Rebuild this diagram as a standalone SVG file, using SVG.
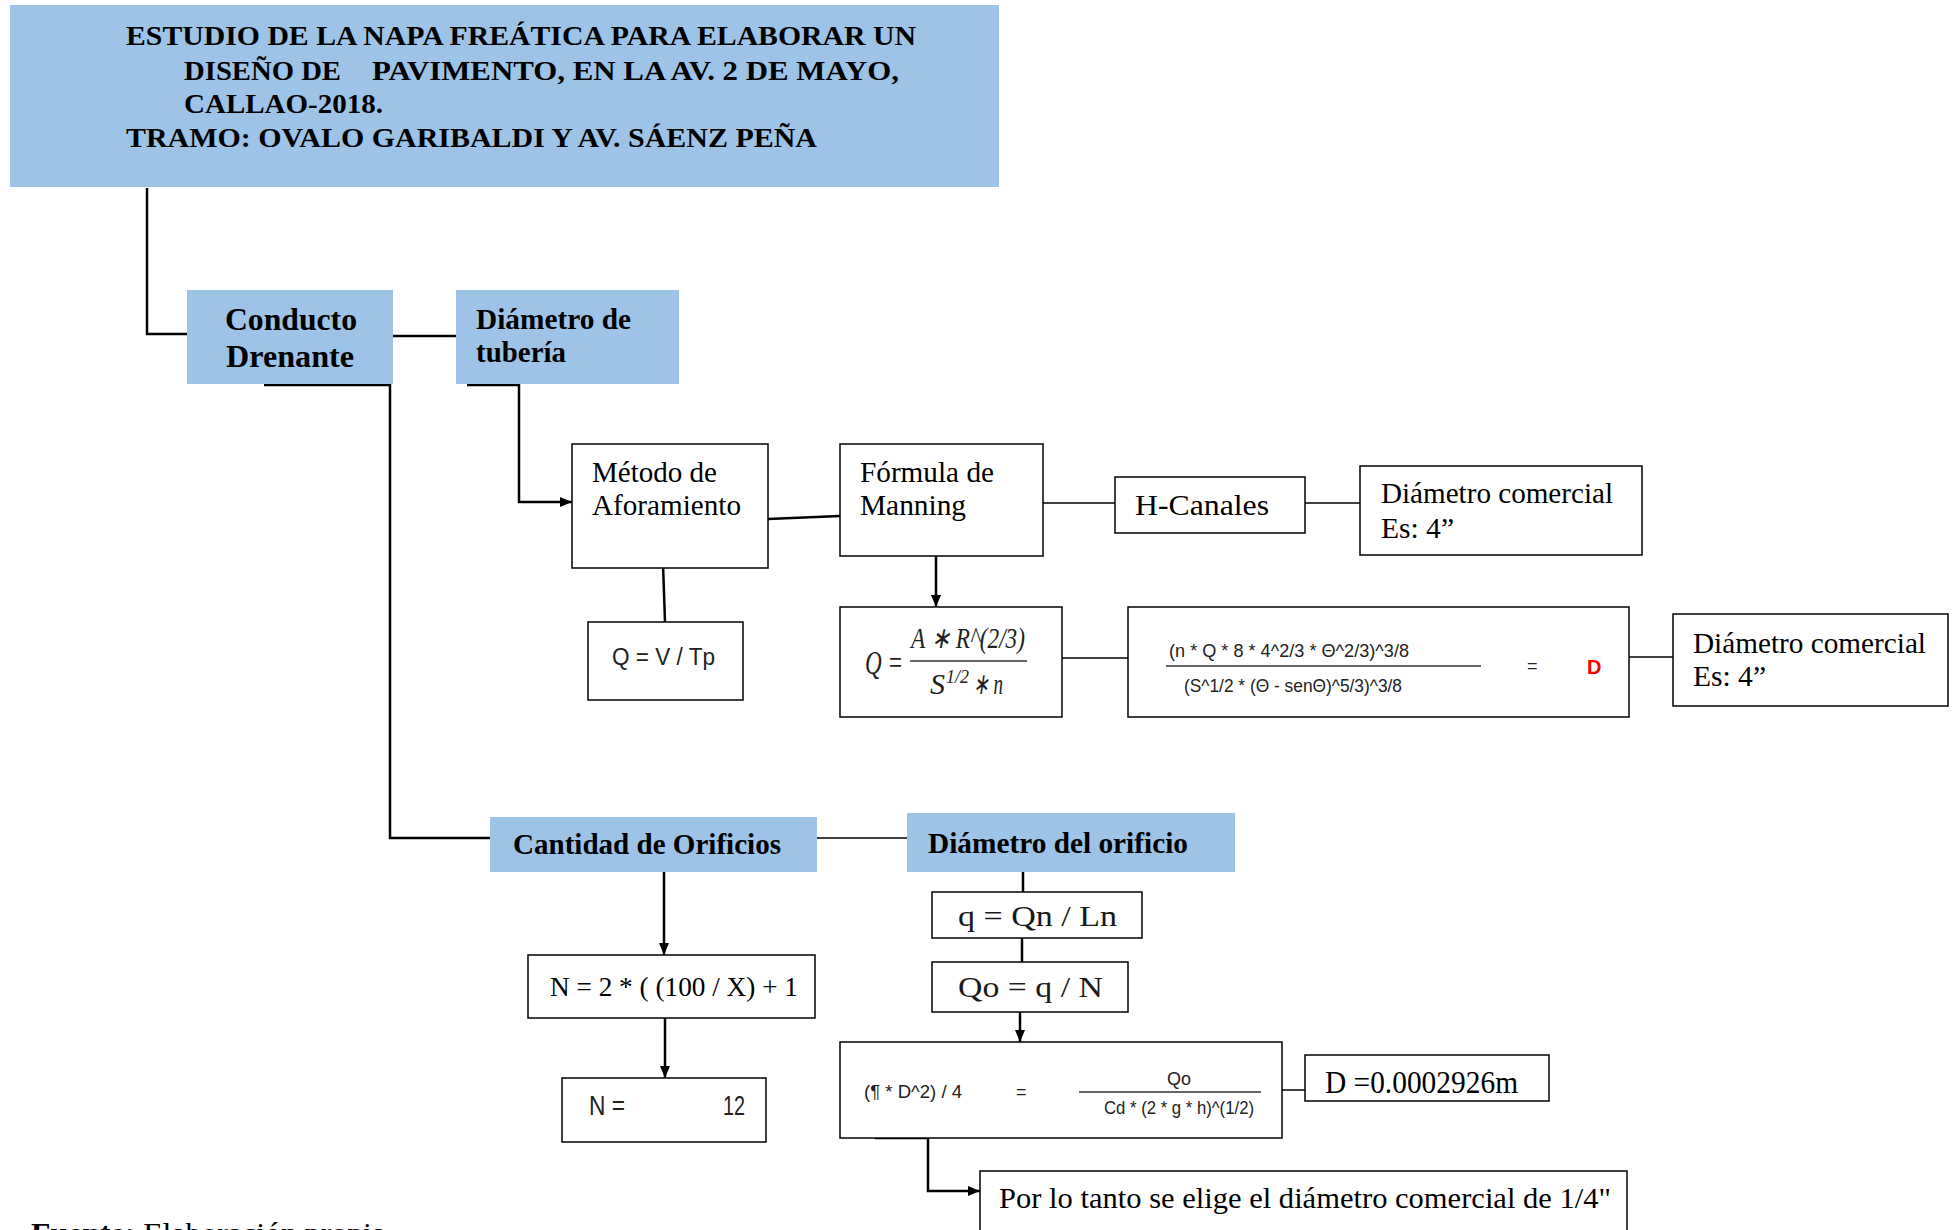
<svg xmlns="http://www.w3.org/2000/svg" width="1955" height="1230" viewBox="0 0 1955 1230">
  <style>
    .blue { fill: #9DC3E6; stroke: none; }
    .box { fill: #FFFFFF; stroke: #000; stroke-width: 1.5; }
    .serif { font-family: "Liberation Serif", "Times New Roman", serif; fill: #000; }
    .bold { font-weight: bold; }
    .sans { font-family: "Liberation Sans", Arial, sans-serif; fill: #222; }
    .math { font-family: "Liberation Serif", "Times New Roman", serif; font-style: italic; fill: #222; }
    .thick { fill: none; stroke: #000; stroke-width: 2.5; }
    .thin { fill: none; stroke: #000; stroke-width: 1.5; }
    .rule { stroke: #333; stroke-width: 1.6; }
  </style>
  <defs>
    <marker id="arr" viewBox="0 0 12 10" refX="12" refY="5" markerWidth="12" markerHeight="10" markerUnits="userSpaceOnUse" orient="auto">
      <path d="M0,0 L12,5 L0,10 z" fill="#000"/>
    </marker>
  </defs>

  <rect width="1955" height="1230" fill="#FFFFFF"/>

  <!-- connectors -->
  <g id="connectors">
    <path class="thick" d="M147,188 V334 H187"/>
    <path class="thick" d="M393,336 H456"/>
    <path class="thick" d="M467,385 H519 V502 H572" marker-end="url(#arr)"/>
    <path class="thick" d="M768,519 L840,516" stroke-width="3"/>
    <path class="thick" d="M663,564 L665,622"/>
    <path class="thin" d="M1043,503 H1115"/>
    <path class="thin" d="M1305,503 H1360"/>
    <path class="thick" d="M936,556 V607" marker-end="url(#arr)"/>
    <path class="thin" d="M1062,658 H1128"/>
    <path class="thin" d="M1629,657 H1673"/>
    <path class="thick" d="M264,385 H390 V838 H490"/>
    <path class="thin" d="M817,838 H907"/>
    <path class="thick" d="M664,872 V955" marker-end="url(#arr)"/>
    <path class="thick" d="M665,1018 V1078" marker-end="url(#arr)"/>
    <path class="thick" d="M1023,872 V892"/>
    <path class="thick" d="M1022,938 V962"/>
    <path class="thick" d="M1020,1012 V1042" marker-end="url(#arr)"/>
    <path class="thin" d="M1282,1090 H1305"/>
    <path class="thick" d="M875,1138 H928 V1191 H980" marker-end="url(#arr)"/>
  </g>

  <!-- title -->
  <g id="title">
    <rect class="blue" x="10" y="5" width="989" height="182"/>
    <text class="serif bold" font-size="28" x="126" y="45" textLength="790" lengthAdjust="spacingAndGlyphs">ESTUDIO DE LA NAPA FREÁTICA PARA ELABORAR UN</text>
    <text class="serif bold" font-size="28" x="184" y="80" textLength="157" lengthAdjust="spacingAndGlyphs">DISEÑO DE</text>
    <text class="serif bold" font-size="28" x="372" y="80" textLength="527" lengthAdjust="spacingAndGlyphs">PAVIMENTO, EN LA AV. 2 DE MAYO,</text>
    <text class="serif bold" font-size="28" x="184" y="113" textLength="199" lengthAdjust="spacingAndGlyphs">CALLAO-2018.</text>
    <text class="serif bold" font-size="28" x="126" y="147" textLength="691" lengthAdjust="spacingAndGlyphs">TRAMO: OVALO GARIBALDI Y AV. SÁENZ PEÑA</text>
  </g>

  <g id="conducto-drenante">
    <rect class="blue" x="187" y="290" width="206" height="94"/>
    <text class="serif bold" font-size="32" x="225" y="330" textLength="132" lengthAdjust="spacingAndGlyphs">Conducto</text>
    <text class="serif bold" font-size="32" x="226" y="367" textLength="128" lengthAdjust="spacingAndGlyphs">Drenante</text>
  </g>

  <g id="diametro-tuberia">
    <rect class="blue" x="456" y="290" width="223" height="94"/>
    <text class="serif bold" font-size="30" x="476" y="329" textLength="155" lengthAdjust="spacingAndGlyphs">Diámetro de</text>
    <text class="serif bold" font-size="30" x="476" y="362" textLength="90" lengthAdjust="spacingAndGlyphs">tubería</text>
  </g>

  <g id="metodo-aforamiento">
    <rect class="box" x="572" y="444" width="196" height="124"/>
    <text class="serif" font-size="29" x="592" y="482" textLength="125" lengthAdjust="spacingAndGlyphs">Método de</text>
    <text class="serif" font-size="29" x="592" y="515" textLength="149" lengthAdjust="spacingAndGlyphs">Aforamiento</text>
  </g>

  <g id="formula-manning">
    <rect class="box" x="840" y="444" width="203" height="112"/>
    <text class="serif" font-size="29" x="860" y="482" textLength="134" lengthAdjust="spacingAndGlyphs">Fórmula de</text>
    <text class="serif" font-size="29" x="860" y="515" textLength="106" lengthAdjust="spacingAndGlyphs">Manning</text>
  </g>

  <g id="h-canales">
    <rect class="box" x="1115" y="477" width="190" height="56"/>
    <text class="serif" font-size="30" x="1135" y="515" textLength="134" lengthAdjust="spacingAndGlyphs">H-Canales</text>
  </g>

  <g id="diametro-comercial-1">
    <rect class="box" x="1360" y="466" width="282" height="89"/>
    <text class="serif" font-size="30" x="1381" y="503" textLength="232" lengthAdjust="spacingAndGlyphs">Diámetro comercial</text>
    <text class="serif" font-size="30" x="1381" y="538" textLength="73" lengthAdjust="spacingAndGlyphs">Es: 4”</text>
  </g>

  <g id="caudal-aforo">
    <rect class="box" x="588" y="622" width="155" height="78"/>
    <text class="sans" font-size="23" x="612" y="665" textLength="103" lengthAdjust="spacingAndGlyphs">Q = V / Tp</text>
  </g>

  <g id="ecuacion-manning">
    <rect class="box" x="840" y="607" width="222" height="110"/>
    <text class="math" font-size="33" x="865" y="674" textLength="38" lengthAdjust="spacingAndGlyphs">Q =</text>
    <text class="math" font-size="30" x="911" y="648" textLength="114" lengthAdjust="spacingAndGlyphs">A ∗ R^(2/3)</text>
    <line class="rule" x1="910" y1="661" x2="1027" y2="661" stroke-width="2"/>
    <text class="math" font-size="30" x="930" y="694">S</text>
    <text class="math" font-size="18" x="946" y="683" font-style="normal" textLength="23" lengthAdjust="spacingAndGlyphs">1/2</text>
    <text class="math" font-size="30" x="973" y="694" textLength="30" lengthAdjust="spacingAndGlyphs">∗ n</text>
  </g>

  <g id="ecuacion-diametro">
    <rect class="box" x="1128" y="607" width="501" height="110"/>
    <text class="sans" font-size="19" x="1169" y="657" textLength="240" lengthAdjust="spacingAndGlyphs">(n * Q * 8 * 4^2/3 * Θ^2/3)^3/8</text>
    <line class="rule" x1="1166" y1="666" x2="1481" y2="666"/>
    <text class="sans" font-size="19" x="1184" y="692" textLength="218" lengthAdjust="spacingAndGlyphs">(S^1/2 * (Θ - senΘ)^5/3)^3/8</text>
    <text class="sans" font-size="18" x="1527" y="672">=</text>
    <text class="sans bold" font-size="20" x="1587" y="674" style="fill:#FF0000">D</text>
  </g>

  <g id="diametro-comercial-2">
    <rect class="box" x="1673" y="614" width="275" height="92"/>
    <text class="serif" font-size="30" x="1693" y="653" textLength="233" lengthAdjust="spacingAndGlyphs">Diámetro comercial</text>
    <text class="serif" font-size="30" x="1693" y="686" textLength="73" lengthAdjust="spacingAndGlyphs">Es: 4”</text>
  </g>

  <g id="cantidad-orificios">
    <rect class="blue" x="490" y="817" width="327" height="55"/>
    <text class="serif bold" font-size="29" x="513" y="854" textLength="268" lengthAdjust="spacingAndGlyphs">Cantidad de Orificios</text>
  </g>

  <g id="diametro-orificio">
    <rect class="blue" x="907" y="813" width="328" height="59"/>
    <text class="serif bold" font-size="29" x="928" y="853" textLength="260" lengthAdjust="spacingAndGlyphs">Diámetro del orificio</text>
  </g>

  <g id="numero-orificios">
    <rect class="box" x="528" y="955" width="287" height="63"/>
    <text class="serif" font-size="27" x="550" y="996" textLength="248" lengthAdjust="spacingAndGlyphs">N = 2 * ( (100 / X) + 1</text>
  </g>

  <g id="numero-resultado">
    <rect class="box" x="562" y="1078" width="204" height="64"/>
    <text class="sans" font-size="28" x="589" y="1115" textLength="36" lengthAdjust="spacingAndGlyphs">N =</text>
    <text class="sans" font-size="28" x="723" y="1115" textLength="22" lengthAdjust="spacingAndGlyphs">12</text>
  </g>

  <g id="caudal-unitario">
    <rect class="box" x="932" y="892" width="210" height="46"/>
    <text class="serif" font-size="29" x="958" y="926" textLength="159" lengthAdjust="spacingAndGlyphs" style="fill:#1a1a1a">q = Qn / Ln</text>
  </g>

  <g id="caudal-orificio">
    <rect class="box" x="932" y="962" width="196" height="50"/>
    <text class="serif" font-size="29" x="958" y="997" textLength="145" lengthAdjust="spacingAndGlyphs" style="fill:#1a1a1a">Qo = q / N</text>
  </g>

  <g id="ecuacion-orificio">
    <rect class="box" x="840" y="1042" width="442" height="96"/>
    <text class="sans" font-size="18" x="864" y="1098" textLength="98" lengthAdjust="spacingAndGlyphs">(¶ * D^2) / 4</text>
    <text class="sans" font-size="18" x="1016" y="1098">=</text>
    <text class="sans" font-size="18" x="1179" y="1085" text-anchor="middle">Qo</text>
    <line class="rule" x1="1079" y1="1092" x2="1261" y2="1092"/>
    <text class="sans" font-size="18" x="1104" y="1114" textLength="150" lengthAdjust="spacingAndGlyphs">Cd * (2 * g * h)^(1/2)</text>
  </g>

  <g id="diametro-resultado">
    <rect class="box" x="1305" y="1055" width="244" height="46"/>
    <text class="serif" font-size="31" x="1325" y="1093" textLength="193" lengthAdjust="spacingAndGlyphs">D =0.0002926m</text>
  </g>

  <g id="conclusion">
    <rect class="box" x="980" y="1171" width="647" height="70"/>
    <text class="serif" font-size="29" x="999" y="1208" textLength="612" lengthAdjust="spacingAndGlyphs">Por lo tanto se elige el diámetro comercial de 1/4"</text>
  </g>

  <g id="fuente">
    <text class="serif" font-size="30" x="31" y="1243" textLength="355" lengthAdjust="spacingAndGlyphs"><tspan font-weight="bold">Fuente:</tspan> Elaboración propia</text>
  </g>
</svg>
